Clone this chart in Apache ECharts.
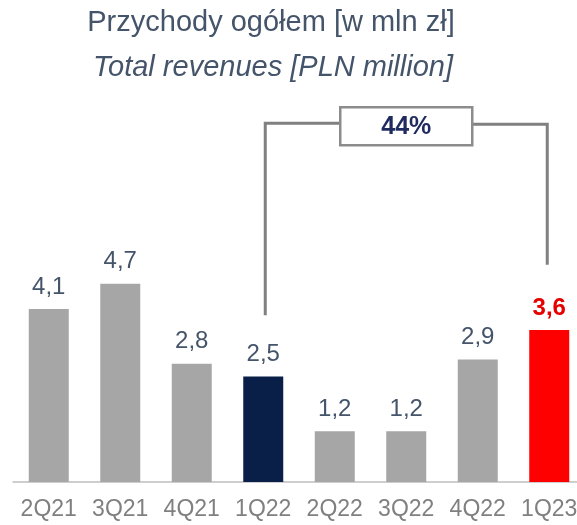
<!DOCTYPE html>
<html>
<head>
<meta charset="utf-8">
<script src="https://cdn.jsdelivr.net/npm/echarts@6/dist/echarts.min.js"></script>
<style>
  html, body { margin: 0; padding: 0; background: #fff; }
  #chart { width: 577px; height: 525px; }
</style>
</head>
<body>
<div id="chart"></div>
<script>
const quarters = ['2Q21', '3Q21', '4Q21', '1Q22', '2Q22', '3Q22', '4Q22', '1Q23']
const revenues = [4.1, 4.7, 2.8, 2.5, 1.2, 1.2, 2.9, 3.6]
// bracket: from category, to category, top level, left end, right end (value units)
const bracket = [3, 7, 8.5, 3.95, 5.15]
const growthLabel = '44%'

const FONT = 'Arial, "Liberation Sans", sans-serif'
const GREY = '#A6A6A6'
const NAVY = '#0A1F48'
const RED = '#FF0000'
const TEXT = '#44546A'

const fmt = v => v.toFixed(1).replace('.', ',')

const chart = echarts.init(document.getElementById('chart'))

chart.setOption({
  animation: false,
  backgroundColor: '#fff',
  title: [
    {
      text: 'Przychody ogółem [w mln zł]',
      left: 266, top: 3, textAlign: 'center',
      textStyle: { fontFamily: FONT, fontSize: 29, fontWeight: 'normal', color: TEXT }
    },
    {
      text: 'Total revenues [PLN million]',
      left: 268, top: 48, textAlign: 'center',
      textStyle: { fontFamily: FONT, fontSize: 29, fontWeight: 'normal', fontStyle: 'italic', color: TEXT }
    }
  ],
  grid: { left: 13, width: 572, top: 60, bottom: 43, outerBoundsMode: 'none', containLabel: false },
  xAxis: {
    type: 'category',
    data: quarters,
    axisLine: { lineStyle: { color: '#BFBFBF', width: 1.5 } },
    axisTick: { show: false },
    axisLabel: { interval: 0, hideOverlap: false, color: '#808080', fontFamily: FONT, fontSize: 23, margin: 16 }
  },
  yAxis: { type: 'value', min: 0, max: 10, show: false, splitLine: { show: false } },
  series: [
    {
      type: 'bar',
      data: revenues.map((v, i) => i === 7
        ? { value: v, label: { color: '#E60000', fontWeight: 'bold' } }
        : v),
      barWidth: 40,
      itemStyle: {
        color: p => p.dataIndex === 7 ? RED : (p.dataIndex === 3 ? NAVY : GREY)
      },
      label: {
        show: true,
        position: 'top',
        distance: 10,
        fontFamily: FONT,
        fontSize: 24,
        color: TEXT,
        formatter: p => fmt(p.value)
      },
      emphasis: { disabled: true }
    },
    {
      type: 'custom',
      data: [bracket],
      z: 5,
      silent: true,
      renderItem: (params, api) => {
        const top = api.value(2)
        const l0 = api.coord([api.value(0), api.value(3)])
        const l1 = api.coord([api.value(0), top])
        const r0 = api.coord([api.value(1), api.value(4)])
        const r1 = api.coord([api.value(1), top])
        const lx = l0[0] + 2, rx = r0[0] - 2
        const mid = (lx + rx) / 2
        const bw = 132, bh = 38
        const line = { stroke: '#808080', lineWidth: 3, fill: null }
        return {
          type: 'group',
          children: [
            { type: 'polyline', shape: { points: [[lx, l0[1]], [lx, l1[1]], [mid - bw / 2, l1[1]]] }, style: line },
            { type: 'polyline', shape: { points: [[mid + bw / 2, r1[1] + 1], [rx, r1[1] + 1], [rx, r0[1]]] }, style: line },
            {
              type: 'rect',
              shape: { x: mid - bw / 2, y: l1[1] - bh / 2 + 3, width: bw, height: bh },
              style: { fill: '#fff', stroke: '#8C8C8C', lineWidth: 2.5 }
            },
            {
              type: 'text',
              x: mid, y: l1[1] + 4,
              style: {
                text: growthLabel, align: 'center', verticalAlign: 'middle',
                fontFamily: FONT, fontSize: 25, fontWeight: 'bold', fill: '#1F2A5E'
              }
            }
          ]
        }
      }
    }
  ]
})
</script>
</body>
</html>
